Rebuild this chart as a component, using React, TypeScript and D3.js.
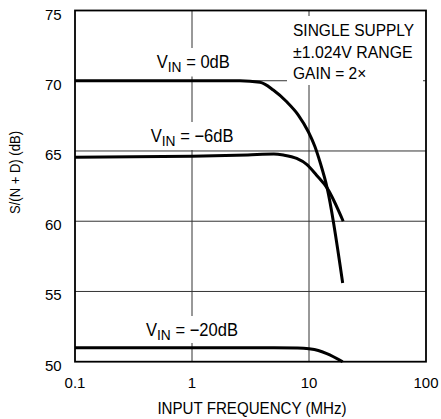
import React from "react";
import { scaleLog, scaleLinear, line, curveMonotoneX } from "d3";

const width = 441;
const height = 419;

const left = 75;
const right = 426;
const top = 10.5;
const bottom = 361.7;

// frequency (MHz) and S/(N+D) (dB)
const freq0dB = [0.1, 1, 2.57, 3.81, 4.95, 6.45, 8.1, 9.87, 11.25, 12.4, 14.3, 19.4];
const snd0dB = [70, 70, 70, 69.89, 69.34, 68.5, 67.56, 66.37, 65.3, 64.23, 62.36, 55.6];

const freq6dB = [0.1, 1, 3, 5, 6.03, 7.85, 9.55, 11.6, 14.3, 19.6];
const snd6dB = [64.55, 64.62, 64.72, 64.78, 64.71, 64.47, 64.05, 63.28, 62.36, 60.0];

const freq20dB = [0.1, 1, 5, 8, 10, 12, 14.2, 19.4];
const snd20dB = [51.0, 51.0, 51.0, 50.98, 50.92, 50.8, 50.58, 50.0];

const xTicks = [0.1, 1, 10, 100];
const xTickLabels = ["0.1", "1", "10", "100"];
const yTicks = [50, 55, 60, 65, 70, 75];
const xGrid = [1, 10];
const yGrid = [55, 60, 65, 70];

const x = scaleLog().domain([0.1, 100]).range([left, right]);
const y = scaleLinear().domain([50, 75]).range([bottom, top]);

const lineGen = line<[number, number]>()
  .x(d => x(d[0]))
  .y(d => y(d[1]))
  .curve(curveMonotoneX);

const pts = (f: number[], v: number[]) => f.map((d, i) => [d, v[i]] as [number, number]);

const font = "'Liberation Sans', Arial, Helvetica, sans-serif";

// squeezed text, the reference uses a narrow face
const Txt = ({ x: tx, y: ty, size, sx = 1, anchor = "start", children }: any) => (
  <g transform={`translate(${tx},${ty}) scale(${sx},1)`}>
    <text fontSize={size} textAnchor={anchor} fontFamily={font} fill="#000">
      {children}
    </text>
  </g>
);

const VinLabel = ({ x: tx, y: ty, value }: any) => (
  <Txt x={tx} y={ty} size={18} sx={0.92}>
    V
    <tspan fontSize={15} dy={4}>IN</tspan>
    <tspan dy={-4}>{` = ${value}`}</tspan>
  </Txt>
);

export default function App() {
  return (
    <svg
      width={width}
      height={height}
      style={{ position: "absolute", left: 0, top: 0, background: "#fff" }}
    >
      {/* grid */}
      {xGrid.map(d => (
        <line key={"gx" + d} x1={x(d)} x2={x(d)} y1={top} y2={bottom} stroke="#333" strokeWidth={1} />
      ))}
      {yGrid.map(d => (
        <line key={"gy" + d} x1={left} x2={right} y1={y(d)} y2={y(d)} stroke="#333" strokeWidth={1} />
      ))}

      {/* white backing behind the labels */}
      <rect x={150} y={48} width={85} height={28.5} fill="#fff" />
      <rect x={146} y={122} width={92} height={28} fill="#fff" />
      <rect x={142} y={316} width={100} height={27} fill="#fff" />
      <rect x={287} y={16} width={136} height={69} fill="#fff" />

      {/* curves */}
      <path d={lineGen(pts(freq0dB, snd0dB)) || ""} fill="none" stroke="#000" strokeWidth={3} />
      <path d={lineGen(pts(freq6dB, snd6dB)) || ""} fill="none" stroke="#000" strokeWidth={3} />
      <path d={lineGen(pts(freq20dB, snd20dB)) || ""} fill="none" stroke="#000" strokeWidth={3} />

      {/* frame */}
      <rect x={left} y={top} width={right - left} height={bottom - top} fill="none" stroke="#000" strokeWidth={1.8} />

      {/* tick labels */}
      {yTicks.map(d => (
        <text key={"yt" + d} x={61.7} y={y(d) + 9} fontSize={15} textAnchor="end" fontFamily={font}>
          {d}
        </text>
      ))}
      {xTicks.map((d, i) => (
        <text key={"xt" + d} x={x(d)} y={388} fontSize={15} textAnchor="middle" fontFamily={font}>
          {xTickLabels[i]}
        </text>
      ))}

      {/* axis titles */}
      <Txt x={252} y={414} size={17} sx={0.89} anchor="middle">INPUT FREQUENCY (MHz)</Txt>
      <g transform="translate(19.5,172.5) rotate(-90) scale(0.87,1)">
        <text fontSize={15} textAnchor="middle" fontFamily={font}>S/(N + D) (dB)</text>
      </g>

      {/* curve labels */}
      <VinLabel x={156.7} y={68.3} value="0dB" />
      <VinLabel x={150.7} y={141.7} value={"\u22126dB"} />
      <VinLabel x={146} y={336} value={"\u221220dB"} />

      {/* conditions */}
      <Txt x={293} y={36} size={16.5} sx={0.94}>SINGLE SUPPLY</Txt>
      <Txt x={293} y={57.5} size={16.5} sx={0.96}>{"\u00b11.024V RANGE"}</Txt>
      <Txt x={293} y={78.5} size={16.5} sx={0.94}>{"GAIN = 2\u00d7"}</Txt>
    </svg>
  );
}
